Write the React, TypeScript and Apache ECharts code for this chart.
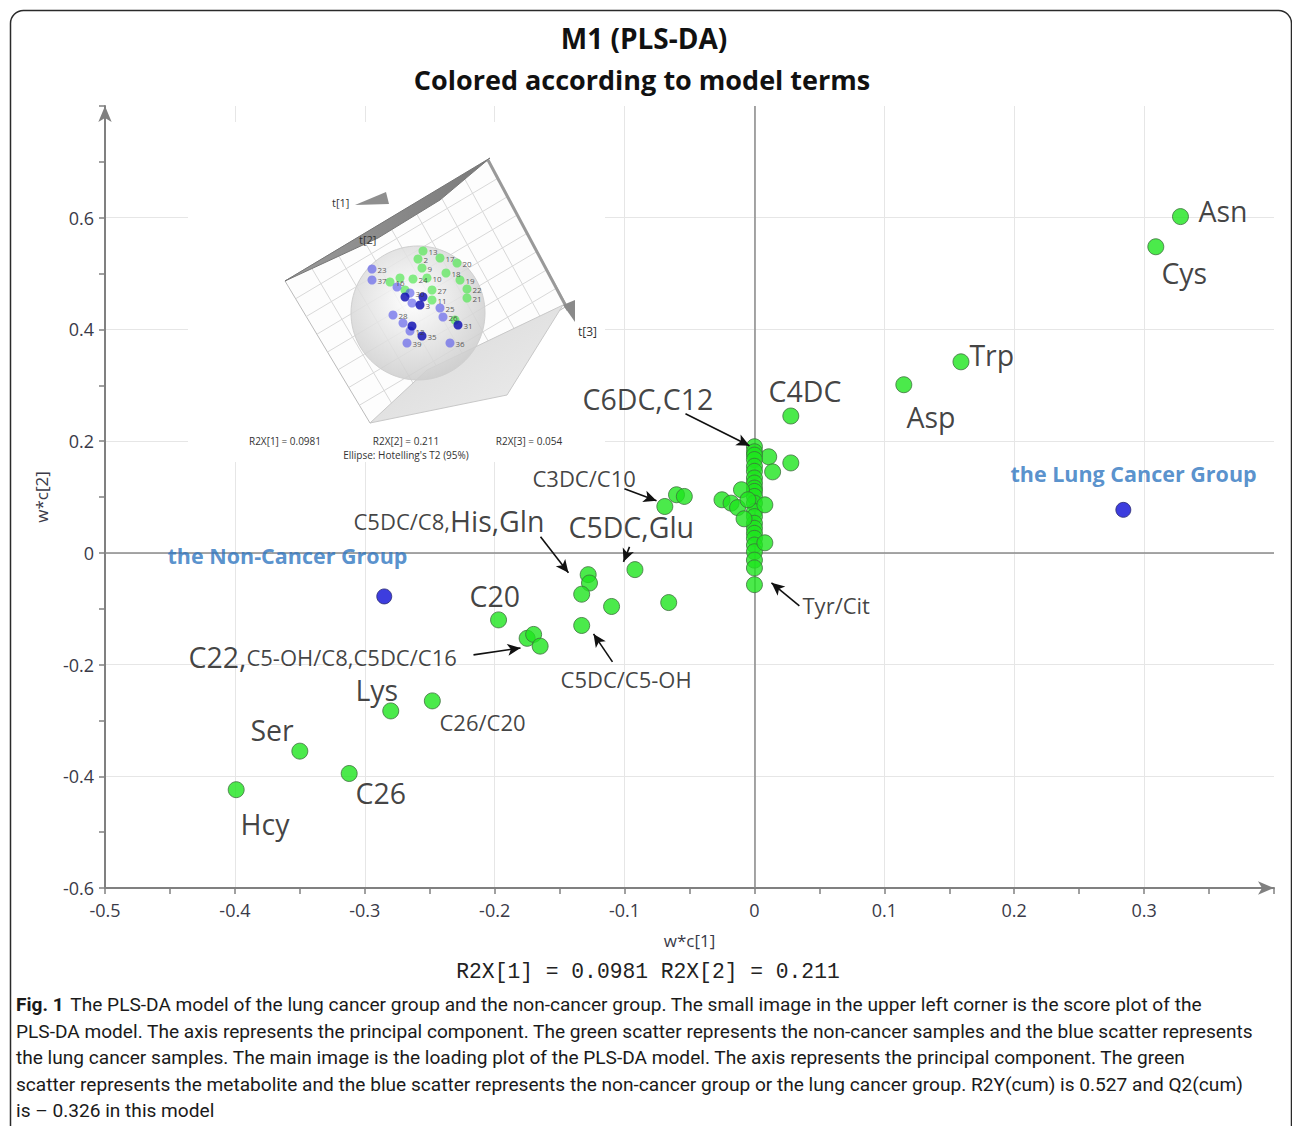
import React, { useEffect, useRef } from "react";
import * as echarts from "echarts";

// ---------- main loading plot data ----------
const metaboliteLoadings: [number, number][] = [
  [0.328, 0.602], [0.309, 0.548], [0.159, 0.342], [0.115, 0.301], [0.028, 0.245],
  [0.011, 0.172], [0.014, 0.145], [0.028, 0.161],
  [0, 0.19], [0, 0.181], [0, 0.175], [0, 0.167], [0, 0.155], [0, 0.146], [0, 0.134],
  [0, 0.125], [0, 0.116], [0, 0.11], [0, 0.101], [0, 0.089], [0, 0.074], [0, 0.065],
  [0, 0.053], [0, 0.044], [0, 0.035], [0, 0.026], [0, 0.014], [0, 0.002], [0, -0.013],
  [0, -0.027], [0, -0.057],
  [0.008, 0.086], [0.008, 0.018],
  [-0.025, 0.095], [-0.018, 0.089], [-0.013, 0.081], [-0.01, 0.113], [-0.008, 0.061], [-0.005, 0.095],
  [-0.069, 0.083], [-0.06, 0.104], [-0.054, 0.101],
  [-0.092, -0.03], [-0.066, -0.089],
  [-0.128, -0.039], [-0.127, -0.054], [-0.133, -0.074],
  [-0.11, -0.096], [-0.133, -0.13],
  [-0.197, -0.12],
  [-0.175, -0.153], [-0.17, -0.146], [-0.165, -0.167],
  [-0.248, -0.265], [-0.28, -0.283], [-0.35, -0.355], [-0.312, -0.395], [-0.399, -0.424],
];
const groupLoadings: [number, number][] = [[-0.285, -0.078], [0.284, 0.077]];

const xTicks = { min: -0.5, max: 0.4, interval: 0.1 };
const yTicks = { min: -0.6, max: 0.8, interval: 0.2 };

// annotation texts: [text(rich), x, y]
const annotations: [string, number, number][] = [
  ["{b|Asn}", 0.3418, 0.6126],
  ["{b|Cys}", 0.3133, 0.5015],
  ["{b|Trp}", 0.1655, 0.3546],
  ["{b|Asp}", 0.117, 0.2436],
  ["{b|C4DC}", 0.0108, 0.2902],
  ["{b|C6DC,C12}", -0.1324, 0.2758],
  ["{s|C3DC/C10}", -0.1709, 0.1343],
  ["{s|C5DC/C8,}{b|His,Gln}", -0.3087, 0.0573],
  ["{b|C5DC,Glu}", -0.1432, 0.0466],
  ["{b|C20}", -0.2194, -0.077],
  ["{b|C22,}{s|C5-OH/C8,C5DC/C16}", -0.4357, -0.1863],
  ["{s|C5DC/C5-OH}", -0.1493, -0.2257],
  ["{s|Tyr/Cit}", 0.037, -0.0931],
  ["{b|Lys}", -0.3072, -0.2454],
  ["{s|C26/C20}", -0.2425, -0.3027],
  ["{b|Ser}", -0.388, -0.317],
  ["{b|C26}", -0.3072, -0.4299],
  ["{b|Hcy}", -0.3957, -0.4854],
  ["{g|the Non-Cancer Group}", -0.4519, -0.0054],
  ["{g|the Lung Cancer Group}", 0.1971, 0.1415],
];

// arrows: [x1, y1, x2, y2]
const arrows: [number, number, number, number][] = [
  [-0.0531, 0.249, -0.0038, 0.1917],
  [-0.1001, 0.1146, -0.0754, 0.0931],
  [-0.1647, 0.0287, -0.1432, -0.0358],
  [-0.0962, 0.0107, -0.1008, -0.0161],
  [-0.2163, -0.1827, -0.1801, -0.1702],
  [-0.1093, -0.1952, -0.1239, -0.1451],
  [0.0346, -0.0949, 0.0131, -0.0537],
];

// ---------- inset score plot (approximate positions in inset space) ----------
const insetGreen: [number, number, string][] = [
  [235, 129, "13"], [230, 137, "2"], [252, 136, "17"], [234, 146, "9"], [258, 151, "18"],
  [269, 141, "20"], [272, 158, "19"], [279, 167, "22"], [279, 176, "21"], [202, 160, "16"],
  [212, 156, ""], [225, 157, "24"], [239, 156, "10"], [244, 168, "27"], [244, 178, "11"],
  [217, 168, ""], [267, 198, ""],
];
const insetBlue: [number, number, string][] = [
  [184, 147, "23"], [184, 158, "37"], [209, 165, ""], [222, 171, "30"], [224, 181, ""],
  [205, 193, "28"], [215, 201, ""], [222, 209, "12"], [219, 221, "39"], [262, 221, "36"],
  [252, 186, "25"], [255, 195, "26"],
];
const insetDarkBlue: [number, number, string][] = [
  [235, 175, ""], [232, 183, "3"], [217, 175, ""], [234, 214, "35"], [270, 203, "31"], [224, 204, ""],
];

const captionFirst =
  "The PLS-DA model of the lung cancer group and the non-cancer group. The small image in the upper left corner is the score plot of the";
const captionLines = [
  "PLS-DA model. The axis represents the principal component. The green scatter represents the non-cancer samples and the blue scatter represents",
  "the lung cancer samples. The main image is the loading plot of the PLS-DA model. The axis represents the principal component. The green",
  "scatter represents the metabolite and the blue scatter represents the non-cancer group or the lung cancer group. R2Y(cum) is 0.527 and Q2(cum)",
  "is \u2013 0.326 in this model",
];

const FONT = '"Open Sans", "Noto Sans", sans-serif';
const CAP_FONT = 'Roboto, "Liberation Sans", sans-serif';
const CAP_SIZE = 19.1;

function lerp(a: number[], b: number[], t: number) {
  return [a[0] + (b[0] - a[0]) * t, a[1] + (b[1] - a[1]) * t];
}

function buildInsetGraphics() {
  const els: any[] = [];
  const z = 1;
  els.push({ type: "rect", z, shape: { x: 188, y: 122, width: 417, height: 340 }, style: { fill: "#fff" } });
  const P0 = [285, 281], P1 = [488, 160], P2 = [567, 306], P3 = [370, 423];
  els.push({ type: "polygon", z, shape: { points: [P0, P1, P2, P3] }, style: { fill: "#fdfdfd", stroke: "#bbb", lineWidth: 1 } });
  for (let i = 1; i < 8; i++) {
    const t = i / 8;
    const a = lerp(P0, P1, t), b = lerp(P3, P2, t);
    const c = lerp(P0, P3, t), d = lerp(P1, P2, t);
    els.push({ type: "line", z, shape: { x1: a[0], y1: a[1], x2: b[0], y2: b[1] }, style: { stroke: "#d8d8d8", lineWidth: 1 } });
    els.push({ type: "line", z, shape: { x1: c[0], y1: c[1], x2: d[0], y2: d[1] }, style: { stroke: "#d8d8d8", lineWidth: 1 } });
  }
  els.push({
    type: "polygon", z,
    shape: { points: [[563, 305], [507, 395], [370, 423], [427, 370]] },
    style: {
      fill: { type: "linear", x: 0, y: 0, x2: 1, y2: 1, colorStops: [{ offset: 0, color: "#d6d6d6" }, { offset: 1, color: "#eeeeee" }] },
      stroke: "#c8c8c8", lineWidth: 1,
    },
  });
  els.push({
    type: "polygon", z,
    shape: { points: [[285, 281], [490, 158], [440, 200], [378, 238]] },
    style: {
      fill: { type: "linear", x: 0, y: 0, x2: 1, y2: 0, colorStops: [{ offset: 0, color: "#9a9a9a" }, { offset: 1, color: "#7a7a7a" }] },
      stroke: "#777", lineWidth: 1,
    },
  });
  els.push({ type: "line", z, shape: { x1: 488, y1: 160, x2: 568, y2: 310 }, style: { stroke: "#999", lineWidth: 3 } });
  els.push({ type: "polygon", z, shape: { points: [[563, 305], [575, 300], [575, 322]] }, style: { fill: "#8a8a8a" } });
  els.push({ type: "polygon", z, shape: { points: [[355, 205], [386, 192], [389, 204]] }, style: { fill: "#8f8f8f" } });
  els.push({
    type: "circle", z, shape: { cx: 418, cy: 313, r: 67 },
    style: {
      fill: { type: "radial", x: 0.45, y: 0.4, r: 0.6, colorStops: [{ offset: 0, color: "rgba(255,255,255,0.85)" }, { offset: 1, color: "rgba(205,205,205,0.85)" }] },
      stroke: "#cfcfcf", lineWidth: 1,
    },
  });
  const t = (text: string, x: number, y: number, size: number, align = "left") => ({
    type: "text", z, x, y,
    style: { text, fontSize: size, fontFamily: FONT, fill: "#333", align, verticalAlign: "middle" },
  });
  els.push(t("t[1]", 332, 202, 11));
  els.push(t("t[2]", 359, 239, 11));
  els.push(t("t[3]", 578, 331, 12));
  els.push(t("R2X[1] = 0.0981", 285, 441, 10, "center"));
  els.push(t("R2X[2] = 0.211", 406, 441, 10, "center"));
  els.push(t("R2X[3] = 0.054", 529, 441, 10, "center"));
  els.push(t("Ellipse: Hotelling's T2 (95%)", 406, 455, 10, "center"));
  return els;
}

function buildOption() {
  const insetSeries = (data: [number, number, string][], color: string) => ({
    type: "scatter",
    xAxisIndex: 1,
    yAxisIndex: 1,
    symbolSize: 9,
    z: 3,
    silent: true,
    itemStyle: { color },
    data: data.map((d) => ({ value: [d[0], d[1]], name: d[2] })),
    label: { show: true, position: "right", distance: 1, formatter: "{b}", fontSize: 8, color: "#333", fontFamily: FONT },
  });

  const axisCommon = {
    axisLine: { onZero: false, lineStyle: { color: "#808080", width: 2 }, symbol: ["none", "arrow"], symbolSize: [10, 16] },
    axisTick: { show: true, length: 6, lineStyle: { color: "#808080", width: 1.5 } },
    minorTick: { show: true, splitNumber: 2, length: 6, lineStyle: { color: "#808080", width: 1.5 } },
    splitLine: { show: true, showMaxLine: false, lineStyle: { color: "#e6e6e6", width: 1 } },
    axisLabel: { color: "#3a3a48", fontSize: 18, fontFamily: FONT, showMaxLabel: false },
    nameTextStyle: { color: "#3a3a48", fontSize: 17, fontFamily: FONT },
  };

  return {
    animation: false,
    backgroundColor: "#ffffff",
    grid: [
      { left: 105, right: 18, top: 106, bottom: 238 },
      { left: 188, top: 122, width: 417, height: 340 },
    ],
    xAxis: [
      {
        type: "value",
        gridIndex: 0,
        min: xTicks.min,
        max: xTicks.max,
        interval: xTicks.interval,
        name: "w*c[1]",
        nameLocation: "middle",
        nameGap: 44,
        ...axisCommon,
        axisLabel: { ...axisCommon.axisLabel, margin: 13 },
      },
      { type: "value", gridIndex: 1, min: 0, max: 417, show: false },
    ],
    yAxis: [
      {
        type: "value",
        gridIndex: 0,
        min: yTicks.min,
        max: yTicks.max,
        interval: yTicks.interval,
        name: "w*c[2]",
        nameLocation: "middle",
        nameGap: 55,
        ...axisCommon,
        axisLabel: { ...axisCommon.axisLabel, margin: 11 },
      },
      { type: "value", gridIndex: 1, min: 0, max: 340, inverse: true, show: false },
    ],
    graphic: [
      ...buildInsetGraphics(),
      {
        type: "rect", z: 10,
        shape: { x: 10.5, y: 10.5, width: 1281, height: 1140, r: 13 },
        style: { fill: "none", stroke: "#2a2a2a", lineWidth: 1.5 },
      },
      { type: "text", x: 644, y: 38, style: { text: "M1 (PLS-DA)", fontSize: 28, fontWeight: "bold", fontFamily: FONT, fill: "#111", align: "center", verticalAlign: "middle" } },
      { type: "text", x: 642, y: 79, style: { text: "Colored according to model terms", fontSize: 27, fontWeight: "bold", fontFamily: FONT, fill: "#111", align: "center", verticalAlign: "middle" } },
      { type: "text", x: 648, y: 972, style: { text: "R2X[1] = 0.0981 R2X[2] = 0.211", fontSize: 21.3, fontFamily: '"Liberation Mono", "DejaVu Sans Mono", monospace', fill: "#222", align: "center", verticalAlign: "middle" } },
      {
        type: "text", x: 16, y: 1004,
        style: {
          text: "{f|Fig. 1}  {n|" + captionFirst + "}",
          rich: {
            f: { fontSize: CAP_SIZE, fontWeight: "bold", fontFamily: CAP_FONT, fill: "#1a1a1a" },
            n: { fontSize: CAP_SIZE, fontFamily: CAP_FONT, fill: "#1a1a1a" },
          },
          verticalAlign: "middle",
        },
      },
      ...captionLines.map((line, i) => ({
        type: "text", x: 16, y: 1031 + i * 26.5,
        style: { text: line, fontSize: CAP_SIZE, fontFamily: CAP_FONT, fill: "#1a1a1a", verticalAlign: "middle" },
      })),
    ],
    series: [
      {
        type: "scatter",
        data: [],
        xAxisIndex: 0,
        yAxisIndex: 0,
        markLine: {
          z: 1,
          silent: true,
          symbol: "none",
          label: { show: false },
          lineStyle: { color: "#8a8a8a", width: 1.5, type: "solid" },
          data: [{ xAxis: 0 }, { yAxis: 0 }],
        },
      },
      {
        type: "scatter",
        name: "metabolites",
        xAxisIndex: 0,
        yAxisIndex: 0,
        z: 3,
        symbolSize: 16,
        itemStyle: { color: "#1ee51e", borderColor: "#3f6f3f", borderWidth: 1 },
        data: metaboliteLoadings,
      },
      {
        type: "scatter",
        name: "groups",
        xAxisIndex: 0,
        yAxisIndex: 0,
        z: 3,
        symbolSize: 15,
        itemStyle: { color: "#0d0dd6", borderColor: "#2a2a70", borderWidth: 1 },
        data: groupLoadings,
      },
      {
        type: "scatter",
        name: "annotations",
        xAxisIndex: 0,
        yAxisIndex: 0,
        z: 6,
        silent: true,
        symbolSize: 1,
        itemStyle: { color: "rgba(0,0,0,0)" },
        data: annotations.map((a) => ({ value: [a[1], a[2]], name: a[0] })),
        label: {
          show: true,
          position: "inside",
          align: "left",
          verticalAlign: "middle",
          formatter: (p: any) => p.name,
          rich: {
            b: { fontSize: 28.5, fontFamily: FONT, color: "#111" },
            s: { fontSize: 22, fontFamily: FONT, color: "#111" },
            g: { fontSize: 21.5, fontFamily: FONT, fontWeight: "bold", color: "#2e75c0" },
          },
        },
        markLine: {
          silent: true,
          symbol: ["none", "arrow"],
          symbolSize: [9, 13],
          label: { show: false },
          lineStyle: { color: "#111", width: 1.6, type: "solid" },
          data: arrows.map((a) => [{ coord: [a[0], a[1]] }, { coord: [a[2], a[3]] }]),
        },
      },
      insetSeries(insetGreen, "rgba(70,232,70,0.8)"),
      insetSeries(insetBlue, "rgba(80,80,235,0.75)"),
      insetSeries(insetDarkBlue, "#0808b0"),
    ],
  };
}

export default function App() {
  const ref = useRef<HTMLDivElement>(null);
  useEffect(() => {
    if (!ref.current) return;
    const chart = echarts.init(ref.current, null, { renderer: "svg" });
    chart.setOption(buildOption() as any);
    return () => chart.dispose();
  }, []);
  return (
    <div
      ref={ref}
      style={{ position: "fixed", left: 0, top: 0, width: 1292, height: 1126, background: "#fff" }}
    />
  );
}
